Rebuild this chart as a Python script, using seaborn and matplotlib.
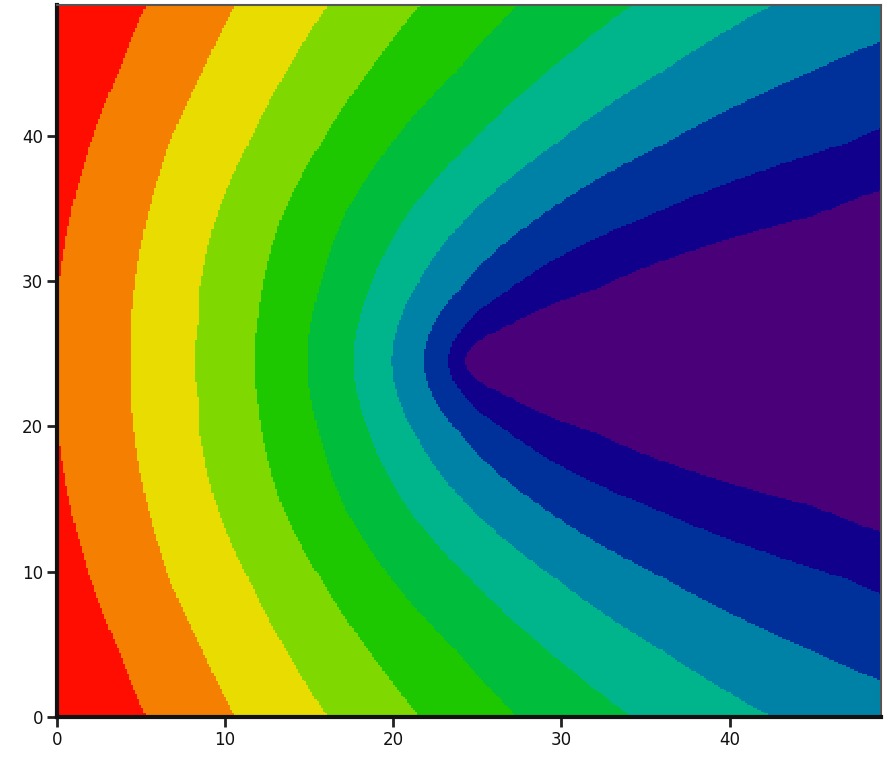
import numpy as np
import seaborn as sns
import matplotlib
matplotlib.use("Agg")
import matplotlib.pyplot as plt
from matplotlib.colors import ListedColormap

edge_dy = [0, 2.5, 5, 10, 15, 20, 24.5]
mid_y = 24.5

# x position of every band edge at those distances (left to right)
red_orange = [-0.45, -0.3, 0.1, 0.8, 2.0, 3.7, 5.3]
orange_yellow = [4.4, 4.4, 4.6, 5.4, 6.7, 8.7, 10.6]
yellow_lime = [8.2, 8.4, 8.5, 9.5, 11.4, 13.7, 16.1]
lime_green = [11.7, 11.9, 12.2, 13.4, 15.7, 18.6, 21.6]
green_green2 = [14.9, 15.1, 15.6, 17.1, 19.9, 23.8, 27.4]
green2_teal = [17.6, 17.9, 18.6, 20.8, 24.6, 29.3, 34.2]
teal_cyan = [19.9, 20.3, 21.3, 24.5, 29.7, 36.1, 42.5]
cyan_blue = [21.8, 22.4, 24.0, 28.8, 36.2, 45.0, 54.5]
blue_navy = [23.3, 24.3, 27.0, 35.2, 47.0, 58.0, 69.0]
navy_purple = [24.3, 27.0, 32.2, 45.0, 58.0, 72.0, 85.0]

band_colors = ["#FF0D00", "#F57F00", "#E8DC00", "#7FD800", "#1DC800", "#00BE3C",
               "#00B48C", "#0082A6", "#00309A", "#10008C", "#4A0078"]

x_ticks = [0, 10, 20, 30, 40]
y_ticks = [0, 10, 20, 30, 40]
x_max = 49
y_max = 49

edges = [red_orange, orange_yellow, yellow_lime, lime_green, green_green2,
         green2_teal, teal_cyan, cyan_blue, blue_navy, navy_purple]

# fine grid of cells, level = number of band edges left of the cell
n = 400
xs = (np.arange(n) + 0.5) / n * x_max
ys = (np.arange(n) + 0.5) / n * y_max
dy2 = (ys - mid_y) ** 2
level = np.zeros((n, n), dtype=int)
for edge in edges:
    bx = np.interp(dy2, np.square(edge_dy), edge)
    level += (xs[None, :] > bx[:, None]).astype(int)

plt.rcParams['font.family'] = ['DejaVu Sans Condensed', 'Liberation Sans Narrow', 'DejaVu Sans']
fig = plt.figure(figsize=(8.86, 7.57), dpi=100)
ax = fig.add_axes([0.0643, 0.0528, 0.930, 0.9406])

sns.heatmap(level, ax=ax, cmap=ListedColormap(band_colors), vmin=-0.5, vmax=10.5,
            cbar=False, xticklabels=False, yticklabels=False, rasterized=True)
ax.invert_yaxis()

ax.set_xticks([v / x_max * n for v in x_ticks])
ax.set_xticklabels([str(v) for v in x_ticks])
ax.set_yticks([v / y_max * n for v in y_ticks])
ax.set_yticklabels([str(v) for v in y_ticks], rotation=0)
ax.tick_params(direction='out', length=7, width=2, color='#222222',
               labelsize=12, labelcolor='#111111', pad=3)

# thick dark left/bottom frame, thin grey top/right
for side, spine in ax.spines.items():
    spine.set_visible(True)
    if side in ('left', 'bottom'):
        spine.set_linewidth(3)
        spine.set_color('#111111')
    else:
        spine.set_linewidth(1.5)
        spine.set_color('#555555')

fig.savefig("out.png", dpi=100)
